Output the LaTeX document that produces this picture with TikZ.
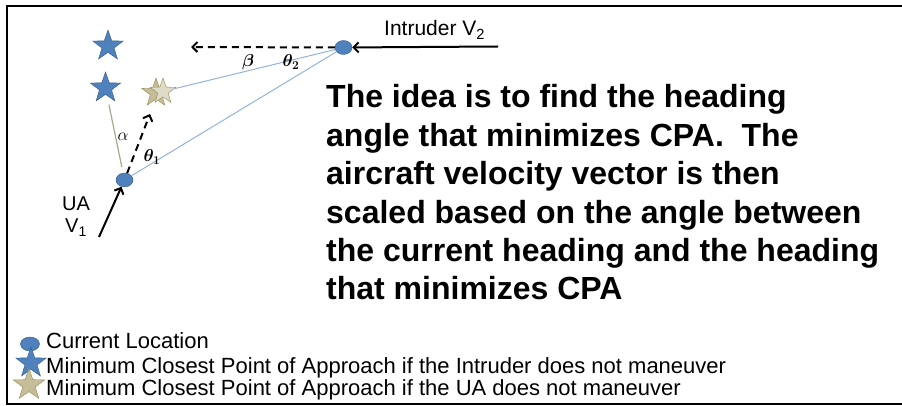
\documentclass[tikz,border=0pt]{standalone}
\usepackage{amsmath}
\usepackage{amssymb}
\usepackage{fontspec}
\setmainfont{Liberation Sans}
\usetikzlibrary{arrows.meta, shapes.geometric, calc}

\definecolor{dotblue}{RGB}{79,129,189}
\definecolor{dotedge}{RGB}{52,88,132}
\definecolor{tanfill}{RGB}{196,189,151}
\definecolor{tanedge}{RGB}{148,138,84}
\definecolor{lineblue}{RGB}{149,179,215}
\definecolor{linegray}{RGB}{172,166,140}

\begin{document}
\begin{tikzpicture}[
                                        x=1pt, y=-1pt,
                                        >={Straight Barb[length=5pt, width=10pt]},
                                        loc/.style={ellipse, draw=dotedge, fill=dotblue, minimum width=17pt, minimum height=14pt, inner sep=0pt},
                                        bluestar/.style={star, star points=5, star point ratio=2.5, draw=dotedge, fill=dotblue, minimum size=32pt, inner sep=0pt},
                                        tanstar/.style={star, star points=5, star point ratio=2.5, draw=tanedge, fill=tanfill, minimum size=30pt, inner sep=0pt},
                                        move/.style={line width=2pt},
                                        guess/.style={line width=2pt, dash pattern=on 7pt off 5pt},
                                        angle/.style={inner sep=0pt, font=\fontsize{17}{19}\selectfont},
                                        label/.style={anchor=base, inner sep=0pt, font=\fontsize{20}{24}\selectfont},
                                        key/.style={anchor=base west, inner sep=0pt, font=\fontsize{22}{24}\selectfont}
                                ]
                                \useasboundingbox (0,0) rectangle (902,406);
                                \draw [line width=2pt] (906,6) -- (7,6) -- (7,404) -- (906,404);

                                \node [bluestar] (starhi) at (108,46) {};
                                \node [bluestar] (starlo) at (105.5,88) {};
                                \node [tanstar] (tanback) at (156,93) {};
                                \node [tanstar, fill=tanfill!55!white, minimum size=27pt] (tanfront) at (163,91.5) {};
                                \node [loc] (ua) at (124.5,180) {};
                                \node [loc] (intr) at (343.5,47.5) {};

                                \coordinate (intrtail) at (498,46.5);
                                \coordinate (intrhead) at (191,47);
                                \coordinate (uahead) at (150,114);
                                \coordinate (uatail) at (99,237);

                                \draw [lineblue, line width=1pt] (tanfront) -- (intr);
                                \draw [lineblue, line width=1pt] (ua) -- (intr);
                                \draw [linegray, line width=1.2pt, shorten <=6pt, shorten >=9pt] (ua) -- (starlo);
                                \draw [guess, ->] (intr) -- (intrhead);
                                \draw [guess, ->] (ua) -- (uahead);
                                \draw [move, ->] (intrtail) -- (intr);
                                \draw [move, ->] (uatail) -- (ua);

                                \node [angle] (alpha) at (123,137) {$\alpha$};
                                \node [angle] (thetaone) at (152,157) {$\boldsymbol{\theta_1}$};
                                \node [angle] (beta) at (248,62) {$\boldsymbol{\beta}$};
                                \node [angle] (thetatwo) at (291,62) {$\boldsymbol{\theta_2}$};

                                \node [label] (ualabel) at (76,211) {UA};
                                \node [label] (vone) at (76,233) {V\textsubscript{1}};
                                \node [label, anchor=base west, font=\fontsize{21}{24}\selectfont] (intrlabel) at (384,36) {Intruder V\textsubscript{2}};

                                \node [anchor=north west, inner sep=0pt, align=left,
                                       font=\fontsize{32}{38.4}\selectfont\bfseries] (idea) at (326,84.5)
                                      {The idea is to find the heading\\
                                       angle that minimizes CPA.\ \ The\\
                                       aircraft velocity vector is then\\
                                       scaled based on the angle between\\
                                       the current heading and the heading\\
                                       that minimizes CPA};

                                \node [loc, minimum width=19pt] (keyloc) at (30,344) {};
                                \node [key] (keyloctext) at (46,348) {Current Location};
                                \node [key] (keybluetext) at (46,373) {Minimum Closest Point of Approach if the Intruder does not maneuver};
                                \node [key] (keytantext) at (46,395) {Minimum Closest Point of Approach if the UA does not maneuver};
                                \node [bluestar] (keyblue) at (31,363) {};
                                \node [tanstar, minimum size=33pt] (keytan) at (29,385) {};
                        \end{tikzpicture}
\end{document}
